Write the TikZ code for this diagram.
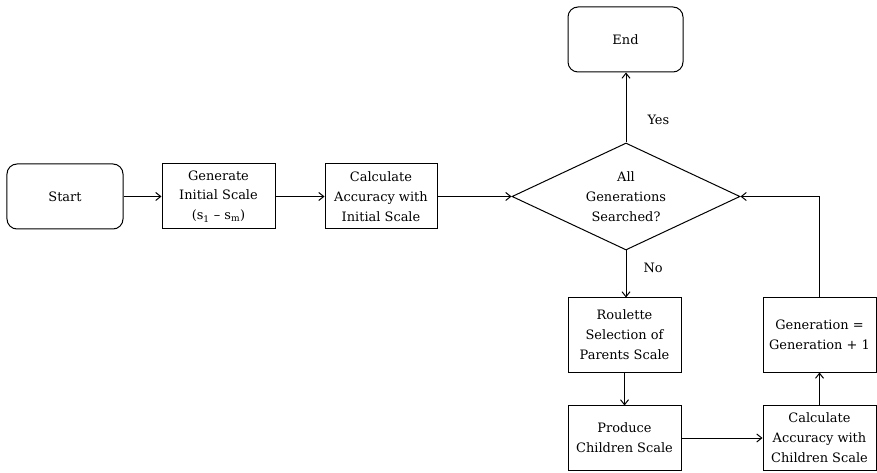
\documentclass[tikz,border=0pt]{standalone}
\usepackage{fontspec}
\setmainfont{DejaVu Serif}
\usetikzlibrary{arrows.meta,positioning,shapes.geometric}
\tikzset{
  stepbox/.style={rectangle, draw, line width=1bp, align=center, inner sep=2bp,
                  minimum width=113bp, minimum height=65bp},
  terminal/.style={stepbox, rounded corners=10bp, minimum width=116bp},
  decision/.style={diamond, aspect=2.13, draw, line width=1bp, align=center, inner sep=0pt,
                   minimum width=228bp, minimum height=107bp},
  flow/.style={-{Straight Barb[length=5bp,width=8bp]}, line width=1bp},
  flowlabel/.style={inner sep=1bp},
}
\begin{document}
\begin{tikzpicture}[x=1bp,y=-1bp,
  every node/.style={font=\fontsize{13}{20}\selectfont}]
  \useasboundingbox (0,0) rectangle (877,473);
  % main row
  \node[terminal] (start) at (65,196.5) {Start};
  \node[stepbox] (geninit) at (218.5,196.5) {Generate\\Initial Scale\\(s\textsubscript{1} – s\textsubscript{m})};
  \node[stepbox, minimum width=112bp] (calcinit) at (381,196.5) {Calculate\\Accuracy with\\Initial Scale};
  \node[decision] (check) at (626,196.5) {All\\Generations\\Searched?};
  \node[terminal, minimum width=115bp] (finish) at (625.5,39.5) {End};
  % loop body
  \node[stepbox, minimum height=74bp] (roulette) at (624.5,335) {Roulette\\Selection of\\Parents Scale};
  \node[stepbox, minimum height=64bp] (produce) at (624.5,438) {Produce\\Children Scale};
  \node[stepbox, minimum height=64bp] (calcchild) at (819.5,438) {Calculate\\Accuracy with\\Children Scale};
  \node[stepbox, minimum height=74bp] (nextgen) at (819.5,335) {Generation =\\Generation + 1};
  % connectors
  \draw[flow] (start) -- (geninit);
  \draw[flow] (geninit) -- (calcinit);
  \draw[flow] (calcinit) -- (check);
  \draw[flow] (check.north) -- node[flowlabel, pos=0.32, right=20bp] {Yes} (finish.south -| check.north);
  \draw[flow] (check.south) -- node[flowlabel, pos=0.38, right=16bp] {No} (roulette.north -| check.south);
  \draw[flow] (roulette) -- (produce);
  \draw[flow] (produce) -- (calcchild);
  \draw[flow] (calcchild) -- (nextgen);
  \draw[flow] (nextgen.north) |- (check.east);
\end{tikzpicture}
\end{document}
